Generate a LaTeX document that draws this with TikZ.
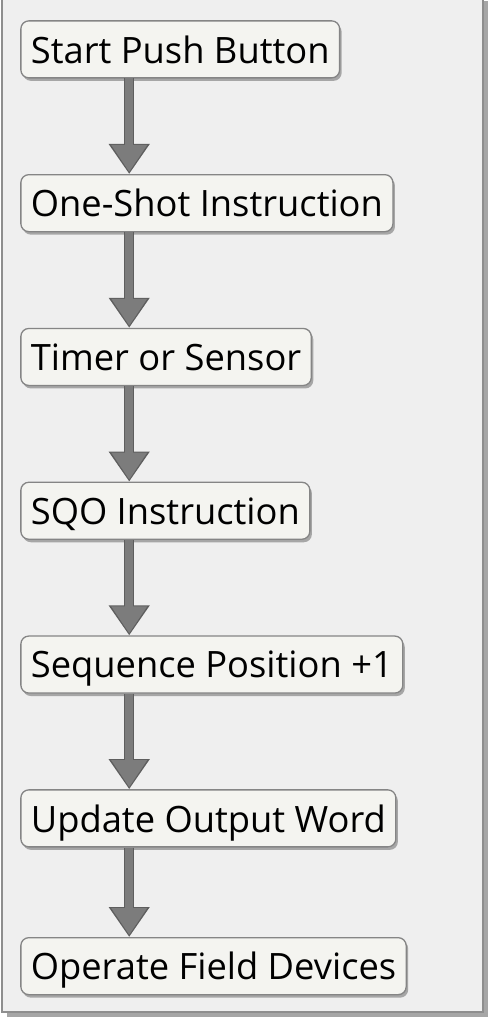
\documentclass[tikz,border=0pt]{standalone}
\usepackage{fontspec}
\setmainfont{Open Sans}
\usetikzlibrary{matrix,shapes,arrows.meta,positioning,calc,shadows}

\definecolor{panelbg}{HTML}{EFEFEF}
\definecolor{panelline}{HTML}{8E8E8E}
\definecolor{boxfill}{HTML}{F4F4F0}
\definecolor{boxline}{HTML}{858585}
\definecolor{arrowfill}{HTML}{7C7C7C}
\definecolor{arrowline}{HTML}{5E5E5E}

\tikzset{
  stepbox/.style={draw=boxline, line width=1.3pt, fill=boxfill, rounded corners=8pt,
    minimum height=57pt, inner xsep=10pt, anchor=west, text depth=0pt,
    font=\fontsize{36.3}{40}\selectfont,
    drop shadow={shadow xshift=2pt, shadow yshift=-3pt, opacity=0.3, fill=black}},
  flowarrow/.style={draw=arrowfill, line width=7.5pt, shorten >=2pt,
    -{Triangle[width=34pt,length=27pt]},
    preaction={draw=arrowline, line width=10.5pt, shorten >=0pt,
      -{Triangle[width=39pt,length=30pt]}}}
}

\begin{document}
\begin{tikzpicture}
\useasboundingbox (0,0) rectangle (495pt,-1024pt);

\fill[panelbg, drop shadow={shadow xshift=5pt, shadow yshift=-5pt, opacity=0.35, fill=black}]
  (2pt,4pt) rectangle (483pt,-1012pt);
\draw[panelline, line width=1.5pt] (2pt,4pt) -- (2pt,-1012pt) -- (483pt,-1012pt) -- (483pt,4pt);

\matrix (m)[matrix of nodes, row sep=95.5pt, inner sep=0pt, nodes={stepbox}, anchor=north west] at (20pt,-20pt)
{
Start Push Button \\
One-Shot Instruction \\
Timer or Sensor \\
SQO Instruction \\
Sequence Position +1 \\
Update Output Word \\[-6pt]
Operate Field Devices \\
};

\foreach \i [count=\j from 2] in {1,...,6}{
  \coordinate (t\i) at ($(m-\i-1.south west)+(109pt,0)$);
  \coordinate (h\i) at ($(m-\j-1.north west)+(109pt,0)$);
  \draw[flowarrow] (t\i) -- (h\i);
}
\end{tikzpicture}
\end{document}
